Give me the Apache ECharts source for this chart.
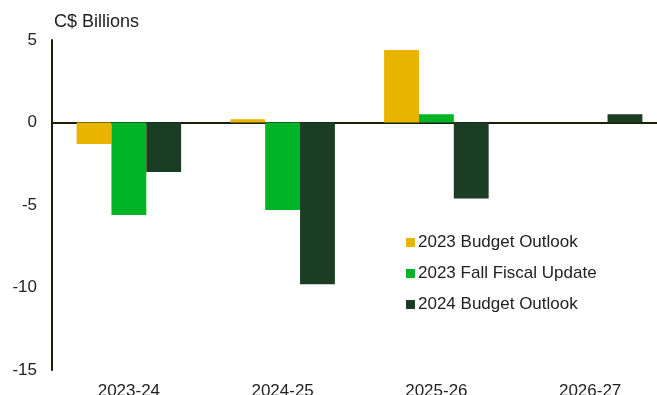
<!DOCTYPE html>
<html><head><meta charset="utf-8">
<script src="https://cdn.jsdelivr.net/npm/echarts@6/dist/echarts.min.js"></script>
<style>html,body{margin:0;padding:0;background:#fff}#c{width:657px;height:395px}</style>
</head><body><div id="c"></div>
<script>
const categories = ['2023-24', '2024-25', '2025-26', '2026-27'];
const budget2023 = [-1.3, 0.2, 4.4, 0];
const fall2023 = [-5.6, -5.3, 0.5, 0];
const budget2024 = [-3.0, -9.8, -4.6, 0.5];
const seriesNames = ['2023 Budget Outlook', '2023 Fall Fiscal Update', '2024 Budget Outlook'];
const yTicks = [-15, -10, -5, 0, 5];

const font = 'Liberation Sans, Arial, sans-serif';
const colors = ['#E8B400', '#00B428', '#1A3D23'];
const chart = echarts.init(document.getElementById('c'));
const data = [budget2023, fall2023, budget2024];
chart.setOption({
  animation: false,
  title: {text: 'C$ Billions', left: 49, top: 8, textStyle: {fontFamily: font, fontSize: 18, fontWeight: 'normal', color: '#222'}},
  legend: {
    orient: 'vertical', left: 401, top: 229, itemWidth: 9, itemHeight: 9, itemGap: 14,
    icon: 'rect',
    itemStyle: {borderWidth: 0},
    textStyle: {fontFamily: font, fontSize: 17, color: '#222', padding: [0,0,0,-2]},
    data: seriesNames
  },
  grid: {left: 52, right: -10, top: 40, bottom: 25, containLabel: false, outerBoundsMode: 'none'},
  xAxis: {
    type: 'category', data: categories,
    axisLine: {onZero: true, lineStyle: {color: '#1a1f0a', width: 2}},
    axisTick: {show: false},
    axisLabel: {fontFamily: font, fontSize: 17, color: '#222', margin: 13, verticalAlign: 'top'},
    position: 'bottom'
  },
  yAxis: {
    type: 'value', min: -15, max: 5, interval: 5,
    axisLine: {show: true, lineStyle: {color: '#1a1f0a', width: 2}},
    axisTick: {show: false},
    splitLine: {show: false},
    axisLabel: {fontFamily: font, fontSize: 17, color: '#222', margin: 15,
      formatter: v => yTicks.includes(v) ? String(v) : ''}
  },
  series: seriesNames.map((n, i) => ({
    name: n, type: 'bar', data: data[i], barGap: '0%', barCategoryGap: '32%',
    itemStyle: {color: colors[i], borderWidth: 0},
    z: 2
  }))
});
</script></body></html>
